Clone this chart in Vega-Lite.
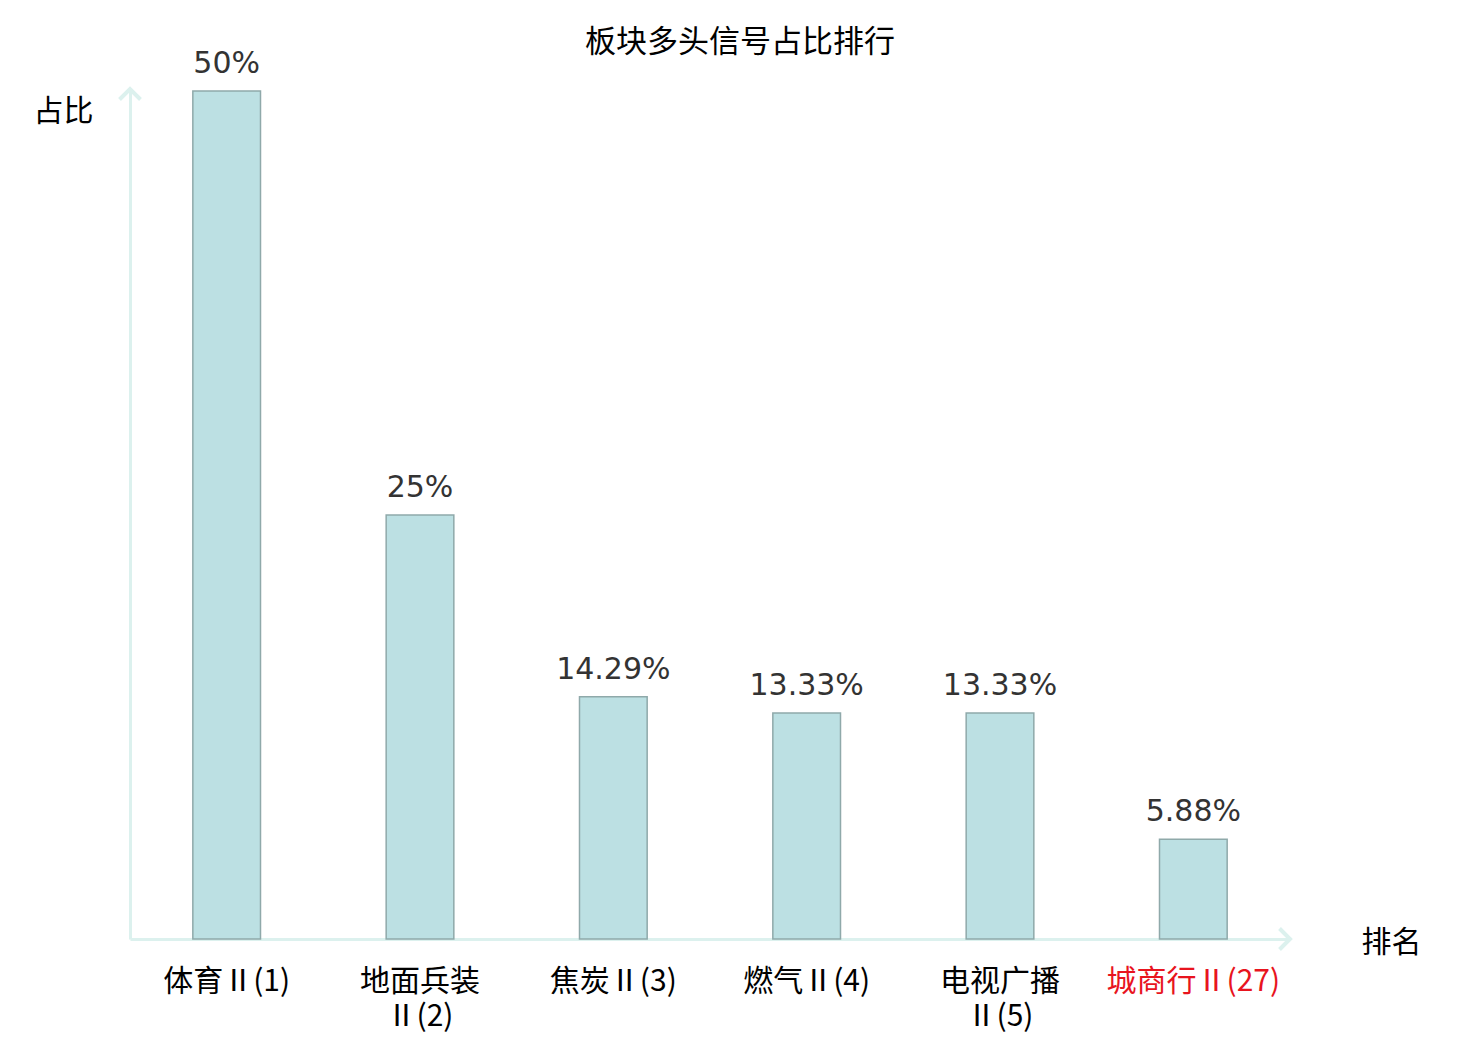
{
  "$schema": "https://vega.github.io/schema/vega-lite/v6.json",
  "autosize": {"type": "none"},
  "width": 1160,
  "height": 848,
  "padding": {"left": 130, "top": 91, "right": 190, "bottom": 101},
  "background": "white",
  "title": {
    "text": "板块多头信号占比排行",
    "font": "Noto Sans CJK SC",
    "fontSize": 31,
    "fontWeight": "normal",
    "color": "#000000",
    "anchor": "middle",
    "dx": 30,
    "offset": -10
  },
  "config": {
    "view": {"stroke": null},
    "axis": {"grid": false, "ticks": false, "domainColor": "#dcf1ee", "domainWidth": 3}
  },
  "data": {
    "values": [
      {"name": "体育Ⅱ(1)", "pct": 50, "label": "50%"},
      {"name": "地面兵装\nⅡ(2)", "pct": 25, "label": "25%"},
      {"name": "焦炭Ⅱ(3)", "pct": 14.29, "label": "14.29%"},
      {"name": "燃气Ⅱ(4)", "pct": 13.33, "label": "13.33%"},
      {"name": "电视广播\nⅡ(5)", "pct": 13.33, "label": "13.33%"},
      {"name": "城商行Ⅱ(27)", "pct": 5.88, "label": "5.88%"}
    ]
  },
  "encoding": {
    "x": {
      "field": "name",
      "type": "nominal",
      "sort": null,
      "scale": {"paddingInner": 0.65, "paddingOuter": 0.325},
      "axis": {
        "title": "排名",
        "titleFont": "Noto Sans CJK SC",
        "titleFontSize": 30,
        "titleFontWeight": "normal",
        "titleColor": "#000000",
        "titleAngle": 0,
        "titleAlign": "center",
        "titleBaseline": "middle",
        "titleX": 1261,
        "titleY": 3,
        "labelAngle": 0,
        "labelFont": "Noto Sans CJK SC",
        "labelFontSize": 30,
        "labelLineHeight": 35,
        "labelPadding": 27,
        "labelExpr": "split(datum.label, '\\n')",
        "labelColor": {"condition": {"test": "indexof(datum.label, '城商行') >= 0", "value": "#e8141e"}, "value": "#000000"}
      }
    }
  },
  "layer": [
    {
      "mark": {"type": "bar", "fill": "#bce0e3", "stroke": "#8fa9aa", "strokeWidth": 1.5},
      "encoding": {
        "y": {
          "field": "pct",
          "type": "quantitative",
          "scale": {"domain": [0, 50], "nice": false},
          "axis": {
            "title": "占比",
            "titleFont": "Noto Sans CJK SC",
            "titleFontSize": 30,
            "titleFontWeight": "normal",
            "titleColor": "#000000",
            "titleAngle": 0,
            "titleAlign": "center",
            "titleBaseline": "middle",
            "titleX": -67,
            "titleY": 20,
            "labels": false
          }
        }
      }
    },
    {
      "mark": {"type": "text", "baseline": "bottom", "dy": -12, "font": "DejaVu Sans", "fontSize": 30, "color": "#333333"},
      "encoding": {
        "y": {"field": "pct", "type": "quantitative"},
        "text": {"field": "label"}
      }
    },
    {
      "data": {"values": [{"axis": "y"}]},
      "mark": {"type": "point", "shape": "M-1,1L0,0L1,1", "filled": false, "stroke": "#dcf1ee", "strokeWidth": 4, "size": 440, "opacity": 1},
      "encoding": {
        "x": {"value": 0},
        "y": {"value": -2}
      }
    },
    {
      "data": {"values": [{"axis": "x"}]},
      "mark": {"type": "point", "shape": "M-1,-1L0,0L-1,1", "filled": false, "stroke": "#dcf1ee", "strokeWidth": 4, "size": 440, "opacity": 1},
      "encoding": {
        "x": {"value": "width"},
        "y": {"value": "height"}
      }
    }
  ]
}
